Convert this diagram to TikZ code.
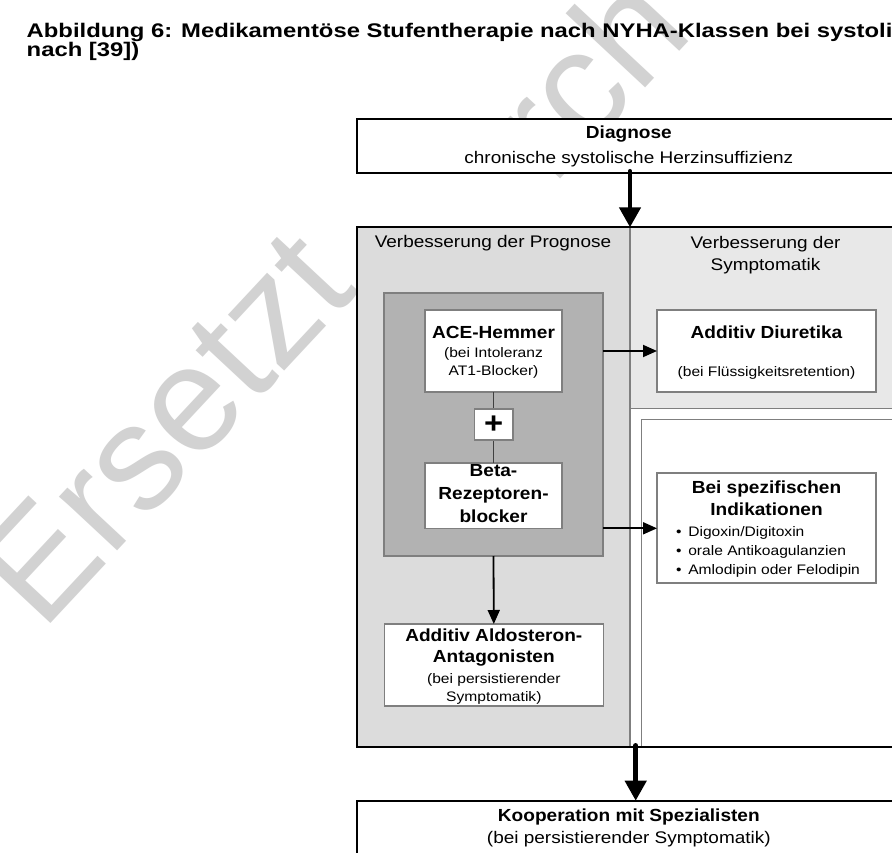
\documentclass[tikz,border=0pt]{standalone}
\usepackage{fontspec}
\setmainfont{Liberation Sans}[FakeStretch=1.13]
\newfontfamily\bfam{Liberation Sans}[FakeStretch=1.09]
\newfontfamily\titlefont{Liberation Sans}[FakeStretch=1.21]
\newfontfamily\wmfont{Liberation Sans}
\usetikzlibrary{arrows.meta,calc}
\definecolor{colL}{HTML}{DCDCDC}
\definecolor{colR}{HTML}{E8E8E8}
\definecolor{colD}{HTML}{B2B2B2}
\definecolor{bord}{HTML}{7F7F7F}
\definecolor{wm}{HTML}{D2D2D2}
\begin{document}
\begin{tikzpicture}[x=1pt,y=-1pt,
  every node/.style={inner sep=0pt, outer sep=0pt},
  region/.style={rectangle, anchor=north west},
  blk/.style={region, draw=black, line width=2pt, fill=white},
  wbox/.style={region, draw=bord, line width=1.2pt, fill=white},
  tB/.style={font=\bfam\bfseries\fontsize{17.5}{20}\selectfont, anchor=base},
  tN/.style={font=\fontsize{16.8}{20}\selectfont, anchor=base},
  tS/.style={font=\fontsize{13.8}{16}\selectfont, anchor=base},
  wmtext/.style={font=\wmfont\fontsize{150}{150}\selectfont, text=wm, rotate=47, anchor=base west},
  bigarrow/.style={line width=4.5pt, line cap=round, -{Triangle[width=21pt,length=20pt]}},
  sarrow/.style={line width=1.8pt, -{Triangle[width=12pt,length=14pt]}},
  thinline/.style={line width=1pt, draw=black!75},
]
\useasboundingbox (0,0) rectangle (892,853);
\clip (0,0) rectangle (892,853);
\fill[white] (0,0) rectangle (892,853);

% watermark (visible parts)
\node[wmtext] (wmark1) at (42,632) {Ersetzt};
\node[wmtext] (wmark2) at (553,187) {rch};

% title
\node[font=\titlefont\bfseries\fontsize{19.7}{19.4}\selectfont, anchor=base west] (title1) at (26.7,37.3) {Abbildung 6: Medikamentöse Stufentherapie nach NYHA-Klassen bei systoli};
\node[font=\titlefont\bfseries\fontsize{19.7}{19.4}\selectfont, anchor=base west] (title2) at (26.7,56.7) {nach [39])};

% diagnose
\node[blk, minimum width=544.3pt, minimum height=53.7pt] (diag) at (356.7,119) {};
\node[tB] (diagT1) at (628.85,138.3) {Diagnose};
\node[tN] (diagT2) at (628.85,163.3) {chronische systolische Herzinsuffizienz};

% regions of the big box
\node[region, fill=colL, minimum width=273.3pt, minimum height=520pt] (leftcol) at (356.7,227.3) {};
\node[region, fill=colR, draw=bord, line width=1pt, minimum width=271pt, minimum height=180.7pt] (upright) at (630,227.3) {};
\node[region, fill=white, draw=bord, line width=1pt, minimum width=262pt, minimum height=328.3pt] (lowright) at (641,419) {};
\draw[draw=bord, line width=1.2pt] (leftcol.north east) -- (leftcol.south east);
\node[region, draw=black, line width=2pt, minimum width=544.3pt, minimum height=520pt] (bigbox) at (356.7,227.3) {};

\node[tN] (hdL) at (493,248) {Verbesserung der Prognose};
\node[tN] (hdR1) at (765.5,248.3) {Verbesserung der};
\node[tN] (hdR2) at (765.5,271) {Symptomatik};

% inner boxes
\node[region, fill=colD, draw=bord, line width=1.2pt, minimum width=219pt, minimum height=263pt] (dark) at (384,293) {};
\node[wbox, minimum width=137pt, minimum height=82pt] (ace) at (425,310) {};
\node[wbox, minimum width=137pt, minimum height=65.3pt] (beta) at (425,463) {};
\draw[thinline] (ace.south) -- (beta.north);
\node[wbox, minimum width=38.7pt, minimum height=31pt] (plus) at (474.2,409) {};
\node[font=\bfam\bfseries\fontsize{30}{30}\selectfont] (plusT) at (plus.center) {+};

\node[tB] (aceT1) at (493.5,338.3) {ACE-Hemmer};
\node[tS] (aceT2) at (493.5,357.3) {(bei Intoleranz};
\node[tS] (aceT3) at (493.5,375.7) {AT1-Blocker)};

\node[tB] (betaT1) at (493.5,476.7) {Beta-};
\node[tB] (betaT2) at (493.5,499.5) {Rezeptoren-};
\node[tB] (betaT3) at (493.5,522) {blocker};

\node[wbox, minimum width=219pt, minimum height=82pt] (diur) at (657,310) {};
\node[tB] (diurT1) at (766.5,338.3) {Additiv Diuretika};
\node[tS] (diurT2) at (766.5,376.7) {(bei Flüssigkeitsretention)};

\node[wbox, minimum width=219pt, minimum height=110pt] (spez) at (657,473) {};
\node[tB] (spezT1) at (766.5,493.3) {Bei spezifischen};
\node[tB] (spezT2) at (766.5,515.7) {Indikationen};
\node[tS, anchor=base west] (spezB1) at (676,536.7) {\makebox[12.3pt][l]{•}Digoxin/Digitoxin};
\node[tS, anchor=base west] (spezB2) at (676,555.7) {\makebox[12.3pt][l]{•}orale Antikoagulanzien};
\node[tS, anchor=base west] (spezB3) at (676,574) {\makebox[12.3pt][l]{•}Amlodipin oder Felodipin};

\node[wbox, minimum width=219pt, minimum height=82pt] (aldo) at (384.3,624) {};
\node[tB] (aldoT1) at (493.8,641) {Additiv Aldosteron-};
\node[tB] (aldoT2) at (493.8,662.7) {Antagonisten};
\node[tS] (aldoT3) at (493.8,683.3) {(bei persistierender};
\node[tS] (aldoT4) at (493.8,701.7) {Symptomatik)};

% kooperation
\node[blk, minimum width=544.3pt, minimum height=80pt] (koop) at (356.7,800.7) {};
\node[tB] (koopT1) at (628.85,821.7) {Kooperation mit Spezialisten};
\node[tN] (koopT2) at (628.85,843.3) {(bei persistierender Symptomatik)};

% connectors
\coordinate (bx) at (635.7,760);
\draw[bigarrow] ([yshift=1.5pt]diag.south -| leftcol.east) -- (bigbox.north -| leftcol.east);
\draw[bigarrow] ([yshift=2pt]bigbox.south -| bx) -- (koop.north -| bx);
\draw[sarrow] (ace.east -| dark.east) -- (diur.west |- ace.east);
\draw[sarrow] (beta.south east -| dark.east) -- (spez.west |- beta.south east);
\draw[sarrow] (dark.south) -- (aldo.north);
\end{tikzpicture}
\end{document}
